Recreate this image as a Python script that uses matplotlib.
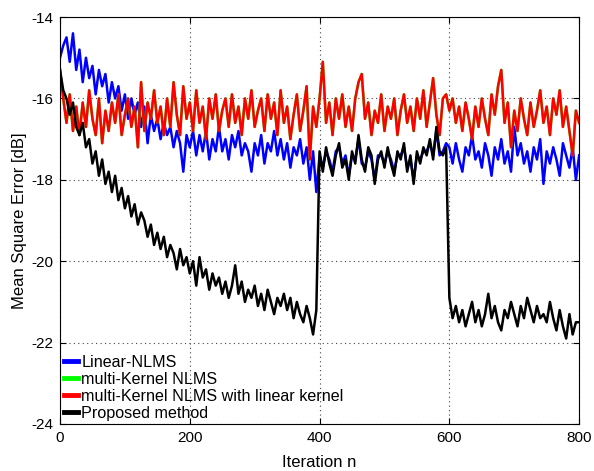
import numpy as np
import matplotlib
matplotlib.use("Agg")
import matplotlib.pyplot as plt

plt.rcParams["font.family"] = ["Liberation Sans", "DejaVu Sans"]
plt.rcParams["axes.unicode_minus"] = False

STEP = 5  # iterations between read-off samples

linear_nlms = [
    -15.0, -14.7, -14.5, -15.1, -14.4, -15.3, -14.8, -15.6, -15.0, -15.5,
    -15.2, -15.9, -15.3, -15.7, -15.4, -16.1, -15.6, -16.0, -15.7, -16.3,
    -15.9, -16.5, -16.0, -16.4, -16.1, -16.7, -16.2, -17.1, -16.4, -16.8,
    -16.5, -17.0, -16.6, -16.9, -16.7, -17.2, -16.8, -17.1, -17.8, -16.9,
    -17.2, -16.8, -17.4, -16.9, -17.3, -16.8, -17.5, -17.0, -17.3, -16.7,
    -17.3, -17.0, -17.5, -16.9, -17.2, -16.8, -17.4, -17.1, -17.3, -17.8,
    -17.1, -17.4, -16.9, -17.6, -17.1, -17.3, -16.8, -17.4, -17.0, -17.5,
    -17.1, -17.7, -17.2, -17.4, -17.0, -17.6, -17.2, -18.0, -17.3, -18.3,
    -17.4, -17.7, -17.3, -17.5, -17.8, -17.3, -17.2, -17.6, -17.4, -17.9,
    -17.4, -17.5, -17.0, -17.6, -17.7, -17.3, -17.5, -18.0, -17.4, -17.4,
    -17.6, -17.3, -17.5, -17.8, -17.4, -17.4, -17.2, -17.7, -17.5, -18.0,
    -17.4, -17.5, -17.3, -17.3, -17.1, -17.4, -16.8, -17.4, -17.3, -17.1,
    -17.2, -17.6, -17.1, -17.5, -17.8, -17.2, -17.4, -16.9, -17.5, -17.3,
    -17.7, -17.1, -17.4, -17.9, -17.2, -17.5, -17.0, -17.6, -17.3, -17.8,
    -16.7, -17.4, -17.1, -17.6, -17.3, -17.8, -17.2, -17.5, -17.0, -18.1,
    -17.3, -17.6, -17.2, -17.5, -17.9, -17.1, -17.4, -17.7, -17.2, -18.0,
    -17.4,
]

mk_nlms_linear = [
    -15.3, -16.0, -16.6, -15.9, -16.8, -16.2, -16.9, -16.1, -16.7, -15.8,
    -16.5, -16.9, -16.0, -17.1, -16.3, -16.8, -16.1, -16.6, -15.9, -16.9,
    -16.4, -16.0, -16.7, -16.2, -17.2, -15.6, -16.8, -16.1, -16.5, -15.8,
    -16.6, -16.2, -16.9, -16.0, -16.7, -15.6, -16.4, -16.9, -15.7, -16.5,
    -16.1, -16.8, -15.8, -16.6, -16.2, -17.0, -16.0, -16.5, -15.9, -16.8,
    -16.3, -16.0, -16.7, -15.9, -16.6, -16.2, -16.9, -16.0, -16.5, -15.8,
    -16.7, -16.3, -16.0, -16.8, -15.9, -16.5, -16.1, -16.9, -15.8, -16.6,
    -16.2, -17.0, -16.4, -15.9, -16.8, -16.3, -15.7, -17.5, -16.2, -16.7,
    -16.0, -15.1, -16.6, -16.1, -16.9, -16.0, -16.5, -15.9, -16.7, -16.2,
    -16.8, -16.0, -15.6, -15.4, -16.5, -16.1, -16.9, -16.3, -16.6, -15.9,
    -16.8, -16.2, -16.5, -16.0, -16.9, -16.3, -15.9, -16.6, -16.2, -16.8,
    -16.0, -16.5, -15.8, -16.7, -16.1, -15.5, -16.4, -16.9, -16.0, -15.9,
    -16.3, -16.0, -16.6, -16.2, -16.8, -16.1, -16.5, -17.0, -16.2, -16.7,
    -16.0, -16.5, -16.9, -15.9, -16.4, -15.7, -15.3, -16.6, -16.1, -17.2,
    -16.3, -16.8, -16.0, -16.5, -16.9, -16.1, -16.7, -16.3, -15.8, -16.6,
    -16.2, -16.9, -16.0, -16.4, -15.8, -16.7, -16.2, -16.8, -17.4, -16.3,
    -16.6,
]

# the plain multi-kernel curve lies underneath the red one
mk_nlms = mk_nlms_linear

proposed = [
    -15.3, -15.8, -16.0, -16.4, -16.1, -16.7, -16.9, -16.6, -17.2, -17.0,
    -17.6, -17.3, -17.9, -17.5, -18.1, -17.8, -18.3, -17.9, -18.5, -18.2,
    -18.7, -18.4, -18.9, -18.6, -19.1, -18.8, -19.0, -19.4, -19.1, -19.6,
    -19.3, -19.7, -19.4, -19.9, -19.6, -19.8, -20.2, -19.7, -20.1, -19.9,
    -20.3, -20.0, -20.6, -19.9, -20.4, -20.2, -20.7, -20.3, -20.6, -20.4,
    -20.8, -20.5, -20.9, -20.6, -20.1, -20.8, -20.5, -21.0, -20.7, -20.9,
    -20.6, -21.1, -20.8, -21.2, -20.7, -21.0, -21.3, -20.9, -21.1, -20.8,
    -21.2, -20.9, -21.4, -21.0, -21.3, -21.5, -21.1, -21.4, -21.8, -21.2,
    -17.3, -17.8, -17.2, -17.6, -17.9, -17.4, -17.1, -17.7, -17.5, -18.0,
    -17.3, -17.6, -16.9, -17.5, -17.8, -17.2, -17.4, -18.1, -17.5, -17.3,
    -17.7, -17.2, -17.6, -17.9, -17.3, -17.5, -17.1, -17.8, -17.4, -18.1,
    -17.3, -17.6, -17.2, -17.4, -17.0, -17.5, -16.7, -17.3, -17.4, -17.2,
    -20.9, -21.4, -21.1, -21.5, -21.2, -21.6, -21.3, -21.0, -21.5, -21.2,
    -21.6, -21.3, -20.8, -21.4, -21.1, -21.5, -21.7, -21.2, -21.4, -21.0,
    -21.3, -21.6, -21.1, -21.4, -20.9, -21.2, -21.5, -21.1, -21.4, -21.3,
    -21.5, -21.0, -21.4, -21.7, -21.2, -21.6, -21.9, -21.3, -21.8, -21.5,
    -21.5,
]

labels = [
    "Linear-NLMS",
    "multi-Kernel NLMS",
    "multi-Kernel NLMS with linear kernel",
    "Proposed method",
]


def main() -> None:
    fig = plt.figure(figsize=(5.94, 4.71), dpi=100)
    ax = fig.add_axes([0.101, 0.0998, 0.874, 0.864])

    series = [linear_nlms, mk_nlms, mk_nlms_linear, proposed]
    colors = ["#0000ff", "#00ff00", "#ff0000", "#000000"]
    for values, color, label in zip(series, colors, labels):
        n = np.arange(len(values)) * STEP
        ax.plot(n, values, color=color, lw=1.8, label=label)

    ax.set_xlim(0, 800)
    ax.set_ylim(-24, -14)
    ax.set_xticks([0, 200, 400, 600, 800])
    ax.set_yticks([-24, -22, -20, -18, -16, -14])
    ax.tick_params(direction="in", top=True, right=True, length=4,
                   labelsize=11, pad=5)
    ax.grid(True, linestyle=(0, (1, 3)), color="#444444", lw=0.8)
    ax.set_xlabel("Iteration n", fontsize=12, labelpad=7)
    ax.set_ylabel("Mean Square Error [dB]", fontsize=12, labelpad=3)

    leg = ax.legend(loc="lower left", bbox_to_anchor=(0.004, 0.004),
                    frameon=False, fontsize=11.6, handlelength=0.9,
                    handletextpad=0.2, labelspacing=0.12, borderpad=0.1,
                    borderaxespad=0.0)
    for line in leg.get_lines():
        line.set_linewidth(3.5)

    fig.savefig("out.png", dpi=100)


if __name__ == "__main__":
    main()
